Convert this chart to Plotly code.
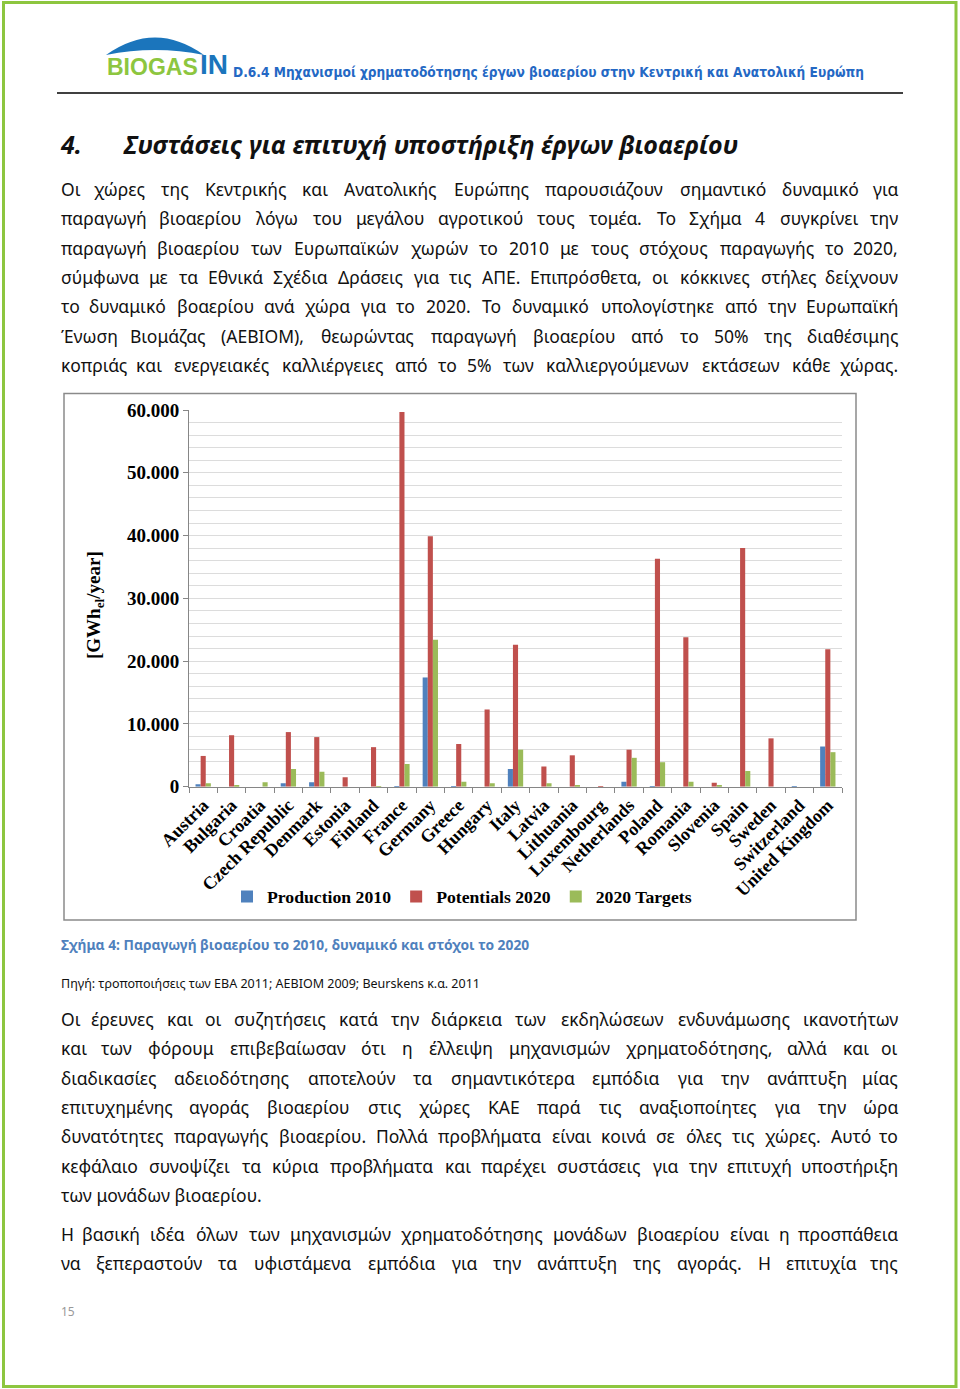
import plotly.graph_objects as go

W, H = 960, 1389

countries = ["Austria", "Bulgaria", "Croatia", "Czech Republic", "Denmark", "Estonia",
             "Finland", "France", "Germany", "Greece", "Hungary", "Italy", "Latvia",
             "Lithuania", "Luxembourg", "Netherlands", "Poland", "Romania", "Slovenia",
             "Spain", "Sweden", "Switzerland", "United Kingdom"]
production_2010 = [400, 0, 0, 530, 700, 0, 0, 100, 17400, 100, 0, 2800, 0,
                   0, 0, 800, 100, 0, 0, 0, 0, 100, 6400]
potentials_2020 = [4900, 8200, 0, 8700, 7900, 1500, 6300, 59700, 39900, 6800, 12300, 22600, 3200,
                   5000, 100, 5900, 36300, 23800, 640, 38000, 7700, 0, 21900]
targets_2020 = [530, 200, 700, 2800, 2400, 0, 100, 3600, 23400, 800, 530, 5900, 530,
                200, 0, 4600, 3900, 800, 200, 2500, 0, 0, 5500]
series_names = ["Production 2010", "Potentials 2020", "2020 Targets"]
series_colors = ["#4F81BD", "#C0504D", "#9BBB59"]
y_tickvals = [0, 10000, 20000, 30000, 40000, 50000, 60000]
y_ticktext = ["0", "10.000", "20.000", "30.000", "40.000", "50.000", "60.000"]

header_text = "D.6.4 Μηχανισμοί χρηματοδότησης έργων βιοαερίου στην Κεντρική και Ανατολική Ευρώπη"
heading_num = "4."
heading_text = "Συστάσεις για επιτυχή υποστήριξη έργων βιοαερίου"
para1 = [
    "Οι χώρες της Κεντρικής και Ανατολικής Ευρώπης παρουσιάζουν σημαντικό δυναμικό για",
    "παραγωγή βιοαερίου λόγω του μεγάλου αγροτικού τους τομέα. Το Σχήμα 4 συγκρίνει την",
    "παραγωγή βιοαερίου των Ευρωπαϊκών χωρών το 2010 με τους στόχους παραγωγής το 2020,",
    "σύμφωνα με τα Εθνικά Σχέδια Δράσεις για τις ΑΠΕ. Επιπρόσθετα, οι κόκκινες στήλες δείχνουν",
    "το δυναμικό βοαερίου ανά χώρα για το 2020. Το δυναμικό υπολογίστηκε από την Ευρωπαϊκή",
    "Ένωση Βιομάζας (AEBIOM), θεωρώντας παραγωγή βιοαερίου από το 50% της διαθέσιμης",
    "κοπριάς και ενεργειακές καλλιέργειες από το 5% των καλλιεργούμενων εκτάσεων κάθε χώρας.",
]
caption = "Σχήμα 4: Παραγωγή βιοαερίου το 2010, δυναμικό και στόχοι το 2020"
source = "Πηγή: τροποποιήσεις των EBA 2011; AEBIOM 2009; Beurskens κ.α. 2011"
para2 = [
    "Οι έρευνες και οι συζητήσεις κατά την διάρκεια των εκδηλώσεων ενδυνάμωσης ικανοτήτων",
    "και των φόρουμ επιβεβαίωσαν ότι η έλλειψη μηχανισμών χρηματοδότησης, αλλά και οι",
    "διαδικασίες αδειοδότησης αποτελούν τα σημαντικότερα εμπόδια για την ανάπτυξη μίας",
    "επιτυχημένης αγοράς βιοαερίου στις χώρες ΚΑΕ παρά τις αναξιοποίητες για την ώρα",
    "δυνατότητες παραγωγής βιοαερίου. Πολλά προβλήματα είναι κοινά σε όλες τις χώρες. Αυτό το",
    "κεφάλαιο συνοψίζει τα κύρια προβλήματα και παρέχει συστάσεις για την επιτυχή υποστήριξη",
    "των μονάδων βιοαερίου.",
]
para3 = [
    "Η βασική ιδέα όλων των μηχανισμών χρηματοδότησης μονάδων βιοαερίου είναι η προσπάθεια",
    "να ξεπεραστούν τα υφιστάμενα εμπόδια για την ανάπτυξη της αγοράς. Η επιτυχία της",
]
page_number = "15"


def px(x):
    return x / W


def py(y):
    return 1 - y / H


fig = go.Figure()
for name, vals, col in zip(series_names, [production_2010, potentials_2020, targets_2020], series_colors):
    fig.add_trace(go.Bar(name=name, x=countries, y=vals, marker=dict(color=col, line=dict(width=0))))

serif = "Liberation Serif"
body_font = "Noto Sans"

fig.update_layout(
    width=W, height=H,
    margin=dict(l=0, r=0, t=0, b=0, autoexpand=False),
    paper_bgcolor="white", plot_bgcolor="white",
    barmode="group", bargap=0.46, bargroupgap=0.0,
    showlegend=True,
    legend=dict(orientation="h", x=px(227), xanchor="left", y=py(897), yanchor="middle",
                font=dict(family=serif, size=17.7, color="black", weight="bold"), bgcolor="rgba(0,0,0,0)",
                itemwidth=30, traceorder="normal"),
    xaxis=dict(domain=[px(189), px(842)], type="category", tickangle=-45, automargin=False,
               tickfont=dict(family=serif, size=18, color="black", weight="bold"),
               showline=True, linecolor="#868686", linewidth=1,
               ticks="outside", tickson="boundaries", ticklen=5, tickcolor="#868686",
               showgrid=False, anchor="y"),
    yaxis=dict(domain=[py(786.7), py(410)], range=[0, 60000], automargin=False,
               tickvals=y_tickvals, ticktext=y_ticktext,
               tickfont=dict(family=serif, size=19, color="black", weight="bold"),
               showline=True, linecolor="#868686", linewidth=1,
               ticks="outside", ticklen=5, tickcolor="#868686",
               showgrid=True, gridcolor="#DCDCDC", gridwidth=1, zeroline=False,
               minor=dict(dtick=2000, showgrid=True, gridcolor="#DCDCDC", gridwidth=1, ticks="")),
)

shapes = []
shapes.append(dict(type="rect", xref="paper", yref="paper", x0=px(3.5), x1=px(956), y0=py(1386.5), y1=py(2.5),
                   line=dict(color="#8DC63F", width=3), fillcolor="rgba(0,0,0,0)", layer="above"))
shapes.append(dict(type="line", xref="paper", yref="paper", x0=px(57), x1=px(903), y0=py(93), y1=py(93),
                   line=dict(color="black", width=1.5)))
shapes.append(dict(type="rect", xref="paper", yref="paper", x0=px(64), x1=px(856), y0=py(920), y1=py(393.5),
                   line=dict(color="#8A8A8A", width=1.5), fillcolor="rgba(0,0,0,0)", layer="below"))
dome = "M {} {} Q {} {} {} {} Q {} {} {} {} Z".format(
    px(106), py(55), px(155), py(20), px(204), py(55), px(155), py(45), px(106), py(55))
shapes.append(dict(type="path", xref="paper", yref="paper", path=dome,
                   fillcolor="#1B75BC", line=dict(width=0)))
fig.update_layout(shapes=shapes)

ann = []


def text(x, y, s, size, color="black", family=body_font, xanchor="left", yanchor="middle", weight=None, style=None, **kw):
    f = dict(family=family, size=size, color=color)
    if weight:
        f["weight"] = weight
    if style:
        f["style"] = style
    ann.append(dict(xref="paper", yref="paper", x=px(x), y=py(y), text=s, showarrow=False,
                    xanchor=xanchor, yanchor=yanchor, font=f, **kw))


# approximate advance widths (em) for Noto Sans, used only to spread justified words
CW = {}
for ch, w in zip("αβγδεζηθικλμνξοπρσςτυφχψω", [.61, .61, .52, .60, .49, .47, .61, .60, .31, .56, .53, .62, .52, .48, .60, .64, .61, .62, .49, .48, .60, .77, .52, .79, .82]):
    CW[ch] = w
for ch, base in zip("άέήίόύώϊΐ", "αεηιουωιι"):
    CW[ch] = CW[base]
for ch, w in zip("ΑΒΓΔΕΖΗΘΙΚΛΜΝΞΟΠΡΣΤΥΦΧΨΩΆΈΉΊΌΎΏ", [.64, .65, .52, .63, .56, .57, .74, .77, .33, .63, .62, .90, .75, .56, .78, .72, .60, .58, .56, .57, .82, .60, .84, .77, .64, .56, .74, .33, .78, .57, .77]):
    CW[ch] = w
for ch in "0123456789":
    CW[ch] = .57
CW.update({".": .27, ",": .27, "(": .30, ")": .30, "%": .85, ":": .27, ";": .27,
           "A": .64, "E": .56, "B": .65, "I": .33, "O": .78, "M": .90})


def est_width(word, size):
    return sum(CW.get(c, .56) for c in word) * size


def justified(x0, x1, y, line, size, color="#111111", justify=True):
    if not justify:
        text(x0, y, line, size, color)
        return
    words = line.split(" ")
    ws = [est_width(w, size) for w in words]
    n = len(words)
    gap = (x1 - x0 - sum(ws)) / (n - 1)
    x = x0
    for i, (w, wd) in enumerate(zip(words, ws)):
        if i == 0:
            text(x0, y, w, size, color, xanchor="left")
        elif i == n - 1:
            text(x1, y, w, size, color, xanchor="right")
        else:
            text(x + wd / 2, y, w, size, color, xanchor="center")
        x += wd + gap


# logo and header
text(105, 67, "BIOGAS", 23, "#8DC63F", "Liberation Sans", weight="bold")
text(198, 65, "IN", 28, "#1B75BC", "Liberation Sans", weight="bold")
text(231, 72, header_text, 13.6, "#2468C4", "DejaVu Sans Condensed", weight="bold")
# heading
text(58, 144, heading_num, 25, "#111111", weight="bold", style="italic")
text(121, 144, heading_text, 25, "#111111", weight="bold", style="italic")

BODY = 17.5
for i, line in enumerate(para1):
    justified(59, 900, 189 + i * 29.3, line, BODY)
text(59, 944, caption, 13.8, "#4F81BD", weight="bold")
text(59, 983, source, 12.5, "#111111")
for i, line in enumerate(para2):
    justified(59, 900, 1019 + i * 29.3, line, BODY, justify=(i < len(para2) - 1))
for i, line in enumerate(para3):
    justified(59, 900, 1234 + i * 29.3, line, BODY)
text(59, 1311, page_number, 12, "#999999")

# y axis title
text(95, 605, "[GWh<sub>el</sub>/year]", 19, "black", serif, xanchor="center", weight="bold", textangle=-90)

fig.update_layout(annotations=ann)
fig.write_html("out.html", config={"displayModeBar": False},
               post_script="document.body.style.margin='0';")
